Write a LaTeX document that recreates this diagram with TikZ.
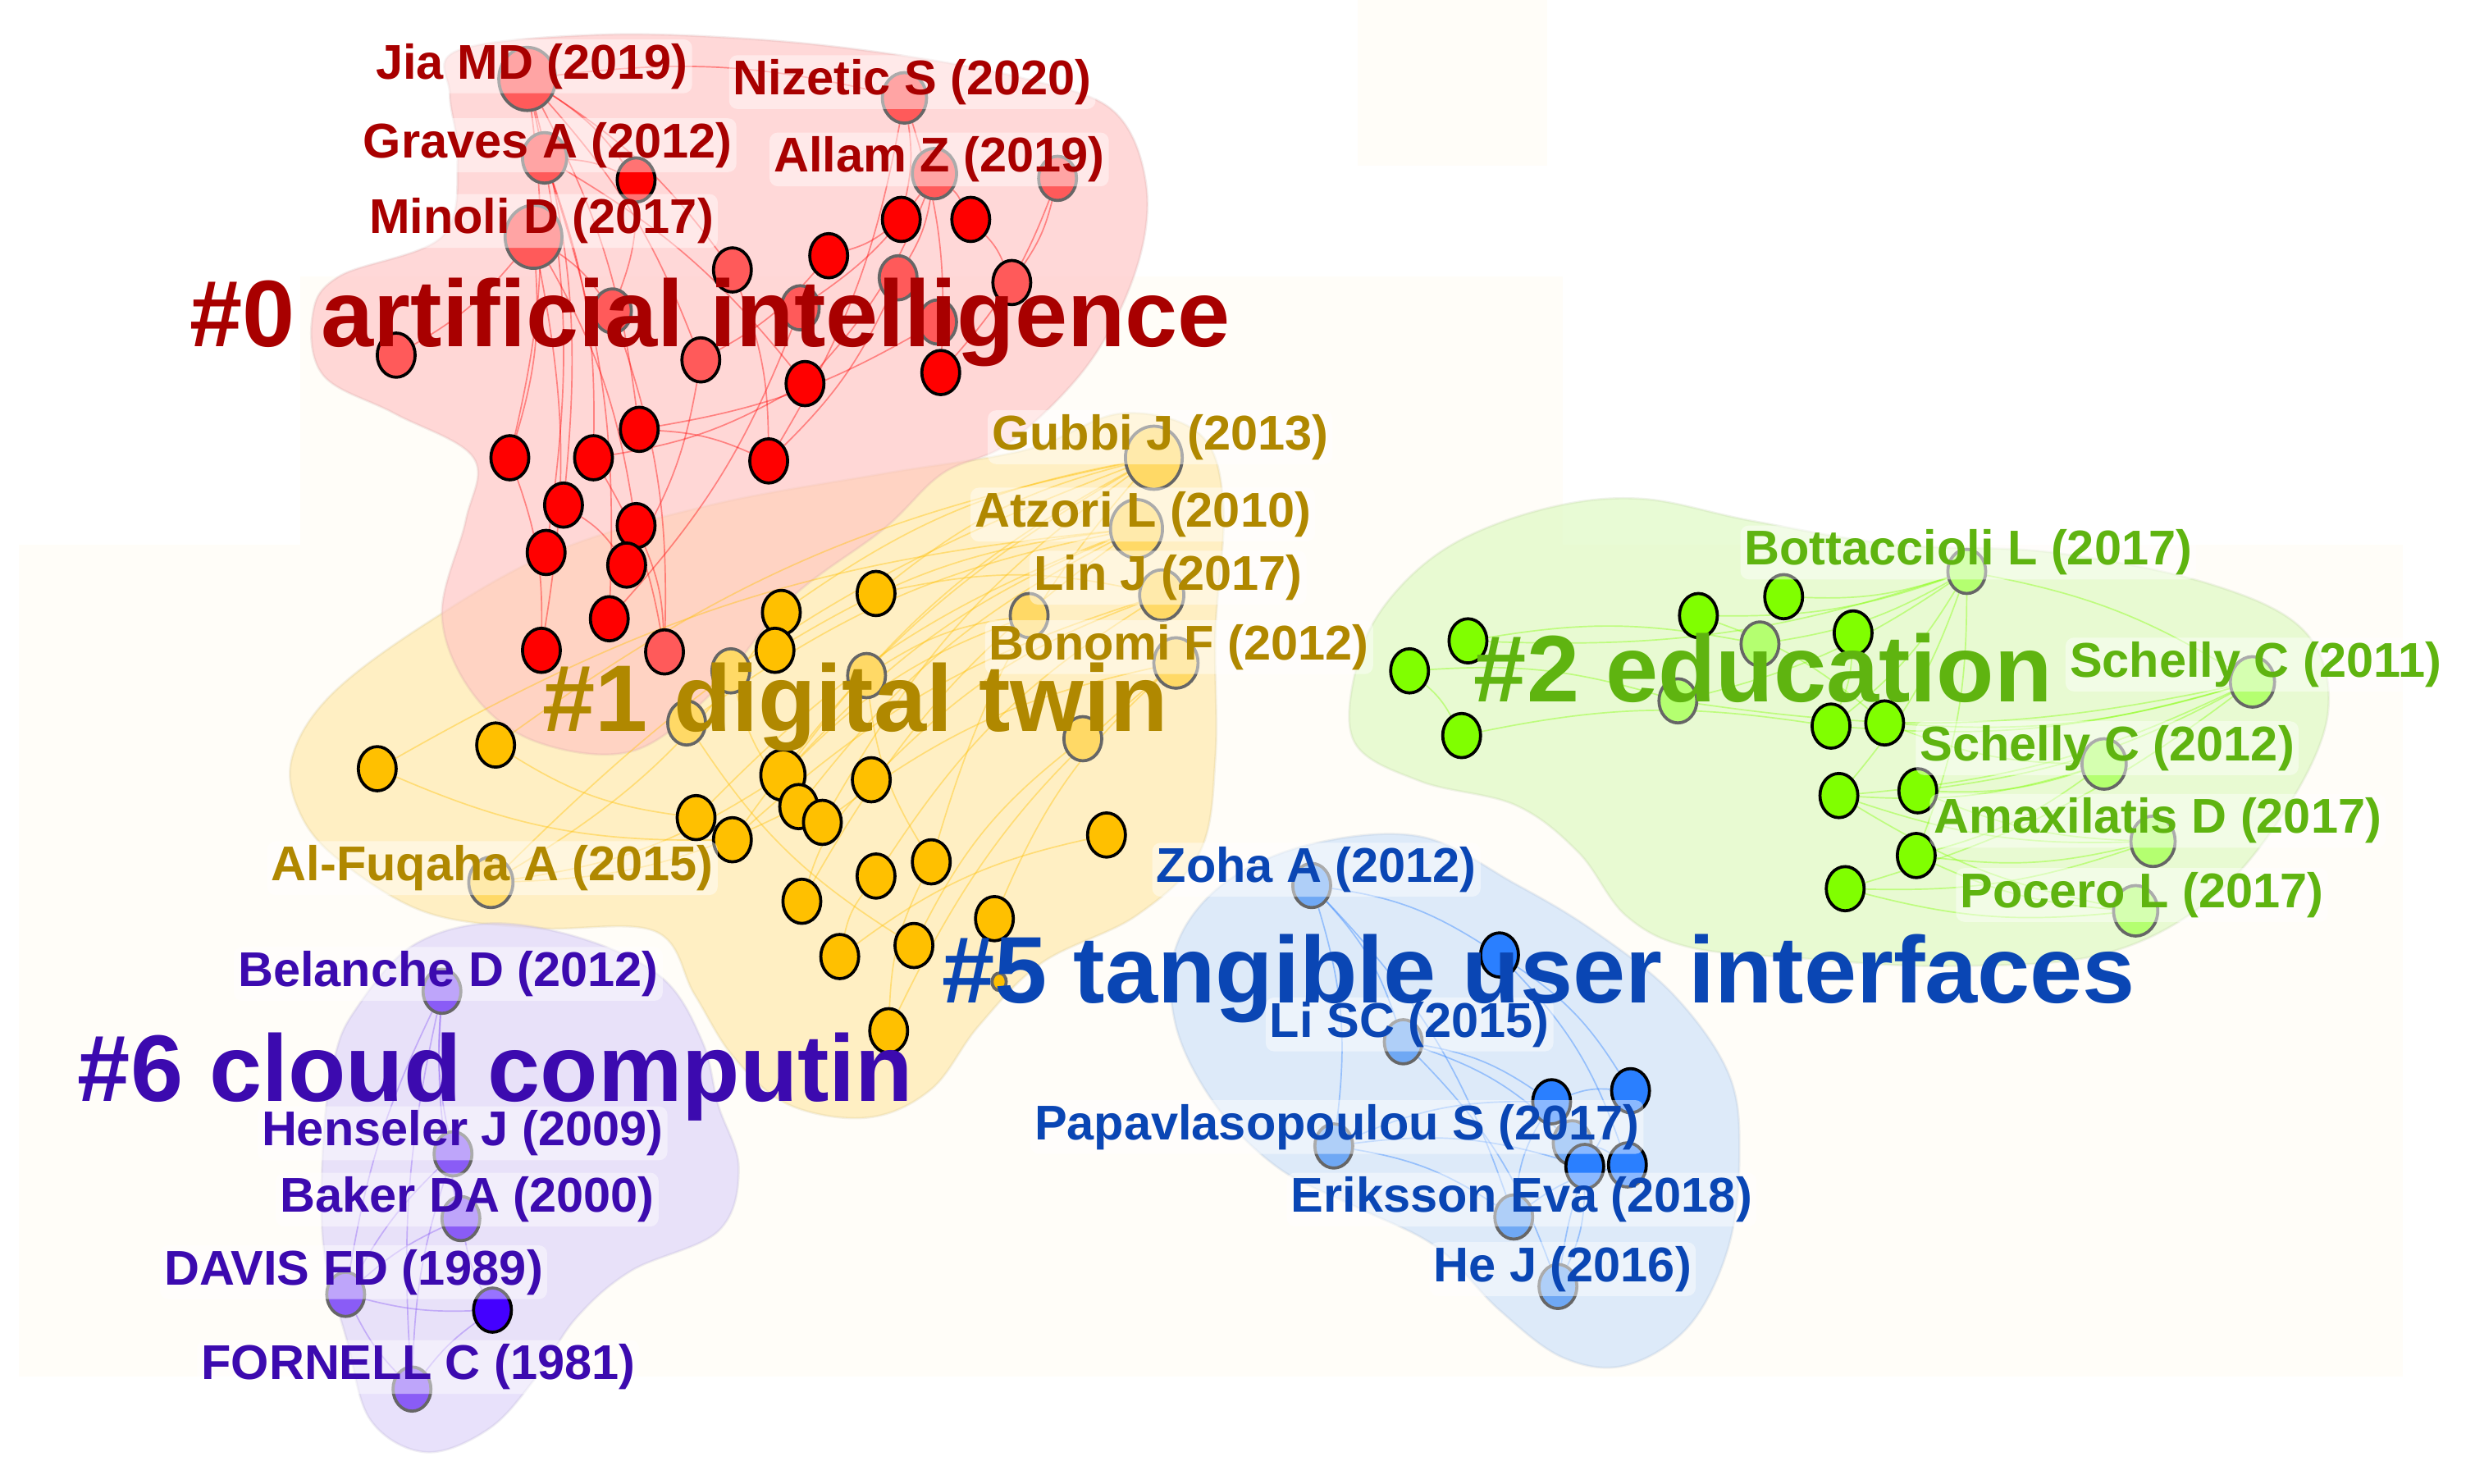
\documentclass[tikz,border=0pt]{standalone}
\usepackage{fontspec}
\setmainfont{Liberation Sans}
\usetikzlibrary{shapes.geometric}
\pgfdeclarelayer{bg}\pgfdeclarelayer{edg}\pgfsetlayers{bg,edg,main}
\definecolor{nR}{HTML}{FF0000}\definecolor{pR}{HTML}{FF5A5A}\definecolor{tR}{HTML}{A80000}\definecolor{hR}{HTML}{FFC4C4}
\definecolor{nO}{HTML}{FFC000}\definecolor{pO}{HTML}{FFD966}\definecolor{tO}{HTML}{B08800}\definecolor{hO}{HTML}{FFE9A8}
\definecolor{nG}{HTML}{80FF00}\definecolor{pG}{HTML}{B4FF70}\definecolor{tG}{HTML}{5FB410}\definecolor{hG}{HTML}{DDF9BF}
\definecolor{nB}{HTML}{2A7FFF}\definecolor{pB}{HTML}{6FA8F4}\definecolor{tB}{HTML}{0A46B4}\definecolor{hB}{HTML}{CCE0FA}
\definecolor{nP}{HTML}{8A5CF6}\definecolor{dP}{HTML}{4400FF}\definecolor{tP}{HTML}{3C0AAF}\definecolor{hP}{HTML}{DCD2FA}
\definecolor{cream}{HTML}{FFFDF8}
\tikzset{
 nd/.style={ellipse, draw=black, line width=1.1pt, inner sep=0pt, minimum width=0.48cm, minimum height=0.56cm},
 pl/.style={nd, draw=black!60},
 szA/.style={minimum width=0.72cm, minimum height=0.80cm},
 szB/.style={minimum width=0.66cm, minimum height=0.74cm},
 szC/.style={minimum width=0.56cm, minimum height=0.64cm},
 szS/.style={minimum width=0.18cm, minimum height=0.22cm},
 lab/.style={font=\bfseries\fontsize{17.6}{20}\selectfont, fill=white, fill opacity=0.45, text opacity=1, rounded corners=3pt, inner sep=1.5pt},
 clab/.style={font=\bfseries\fontsize{34.1}{40}\selectfont, inner sep=0pt},
 hull/.style={fill=#1, fill opacity=0.65, draw=#1!80!black, draw opacity=0.2, line width=0.8pt},
 ed/.style={draw=#1, opacity=0.4, line width=0.5pt}
}
\begin{document}
\begin{tikzpicture}[x=0.02cm, y=-0.02cm]
\useasboundingbox (0,0) rectangle (1568,940);
\begin{pgfonlayer}{bg}
\fill[white] (0,0) rectangle (1568,940);
\fill[cream] (12,345) rectangle (1522,872);
\fill[cream] (190,175) rectangle (990,345);
\fill[cream] (860,0) rectangle (980,105);
% hulls
\path[hull=hO] plot[smooth cycle, tension=0.6] coordinates {(185,480) (210,440) (270,395) (350,350) (450,320) (560,300) (650,285) (710,262) (760,275) (775,320) (770,400) (770,480) (760,540) (720,580) (660,610) (620,650) (590,690) (550,708) (500,700) (465,670) (440,630) (415,590) (340,588) (270,578) (215,545) (190,515)};
\path[hull=hR] plot[smooth cycle, tension=0.6] coordinates {(290,32) (380,22) (480,25) (570,35) (650,50) (705,70) (726,116) (720,170) (690,230) (640,280) (597,300) (560,335) (500,380) (450,440) (400,476) (340,470) (300,440) (280,390) (295,330) (300,290) (250,262) (205,238) (198,200) (215,175) (280,150) (290,100) (285,60)};
\path[hull=hG] plot[smooth cycle, tension=0.6] coordinates {(858,470) (860,420) (880,380) (920,345) (980,322) (1040,316) (1110,330) (1200,345) (1300,350) (1400,370) (1460,400) (1475,450) (1450,510) (1400,570) (1330,605) (1230,612) (1140,607) (1070,600) (1030,580) (1000,540) (960,510) (900,495)};
\path[hull=hB] plot[smooth cycle, tension=0.6] coordinates {(745,600) (775,560) (830,535) (900,530) (960,560) (1010,590) (1060,630) (1095,680) (1102,730) (1095,790) (1070,840) (1030,865) (990,860) (950,830) (910,790) (860,765) (810,740) (770,700) (745,650)};
\path[hull=hP] plot[smooth cycle, tension=0.6] coordinates {(225,640) (260,600) (310,585) (370,595) (420,620) (445,660) (455,700) (468,740) (455,780) (400,805) (365,835) (340,872) (310,905) (270,920) (235,900) (220,850) (205,790) (205,720) (212,670)};
\end{pgfonlayer}
% red nodes
\node[pl, szA, fill=pR] (jia) at (334,50) {};
\node[pl, szC, fill=pR] (niz) at (573,62) {};
\node[pl, szC, fill=pR] (gra) at (345,100) {};
\node[nd, fill=nR] (r1) at (403,114) {};
\node[pl, szC, fill=pR] (all) at (592,110) {};
\node[pl, fill=pR] (r2) at (670,113) {};
\node[pl, szA, fill=pR] (min) at (338,150) {};
\node[nd, fill=nR] (r3) at (571,139) {};
\node[nd, fill=nR] (r4) at (615,139) {};
\node[nd, fill=pR] (r5) at (464,171) {};
\node[nd, fill=nR] (r6) at (525,162) {};
\node[pl, fill=pR] (r7) at (569,176) {};
\node[nd, fill=pR] (r8) at (641,179) {};
\node[pl, fill=pR] (r9) at (388,197) {};
\node[pl, fill=pR] (r10) at (507,195) {};
\node[pl, fill=pR] (r11) at (594,204) {};
\node[nd, fill=pR] (r12) at (251,225) {};
\node[nd, fill=pR] (r13) at (444,228) {};
\node[nd, fill=nR] (r14) at (510,243) {};
\node[nd, fill=nR] (r15) at (596,236) {};
\node[nd, fill=nR] (r16) at (405,272) {};
\node[nd, fill=nR] (r17) at (323,290) {};
\node[nd, fill=nR] (r18) at (376,290) {};
\node[nd, fill=nR] (r19) at (487,292) {};
\node[nd, fill=nR] (r20) at (357,320) {};
\node[nd, fill=nR] (r21) at (403,333) {};
\node[nd, fill=nR] (r22) at (346,350) {};
\node[nd, fill=nR] (r23) at (397,358) {};
\node[nd, fill=nR] (r24) at (386,392) {};
\node[nd, fill=nR] (r25) at (343,412) {};
\node[nd, fill=pR] (r26) at (421,413) {};
% orange nodes
\node[pl, szA, fill=pO] (gub) at (731,290) {};
\node[pl, szB, fill=pO] (atz) at (720,335) {};
\node[pl, szC, fill=pO] (lin) at (736,377) {};
\node[pl, fill=pO] (o1) at (652,390) {};
\node[pl, szC, fill=pO] (bon) at (745,420) {};
\node[nd, fill=nO] (o2) at (555,376) {};
\node[nd, fill=nO] (o3) at (495,388) {};
\node[nd, fill=nO] (o4) at (491,412) {};
\node[pl, fill=pO] (o5) at (463,425) {};
\node[pl, fill=pO] (o6) at (549,428) {};
\node[pl, fill=pO] (o7) at (435,458) {};
\node[pl, fill=pO] (o8) at (686,468) {};
\node[nd, fill=nO] (o9) at (314,472) {};
\node[nd, fill=nO] (o10) at (239,487) {};
\node[nd, szC, fill=nO] (o11) at (496,491) {};
\node[nd, fill=nO] (o12) at (552,494) {};
\node[nd, fill=nO] (o13) at (506,511) {};
\node[nd, fill=nO] (o14) at (521,521) {};
\node[nd, fill=nO] (o15) at (441,518) {};
\node[nd, fill=nO] (o16) at (464,532) {};
\node[nd, fill=nO] (o17) at (701,529) {};
\node[nd, fill=nO] (o18) at (590,546) {};
\node[nd, fill=nO] (o19) at (555,555) {};
\node[pl, szC, fill=pO] (alf) at (311,559) {};
\node[nd, fill=nO] (o20) at (630,582) {};
\node[nd, fill=nO] (o21) at (508,571) {};
\node[nd, fill=nO] (o22) at (579,599) {};
\node[nd, fill=nO] (o23) at (532,606) {};
\node[pl, szS, fill=nO] (o24) at (633,622) {};
\node[nd, fill=nO] (o25) at (563,653) {};
% green nodes
\node[pl, fill=pG] (bot) at (1246,362) {};
\node[nd, fill=nG] (g1) at (1130,378) {};
\node[nd, fill=nG] (g2) at (1076,390) {};
\node[nd, fill=nG] (g3) at (930,406) {};
\node[nd, fill=nG] (g4) at (893,425) {};
\node[pl, fill=pG] (g5) at (1115,408) {};
\node[nd, fill=nG] (g6) at (1174,401) {};
\node[pl, fill=pG] (g7) at (1063,444) {};
\node[nd, fill=nG] (g8) at (926,466) {};
\node[nd, fill=nG] (g9) at (1160,460) {};
\node[nd, fill=nG] (g10) at (1194,458) {};
\node[pl, szC, fill=pG] (sca) at (1427,432) {};
\node[pl, szC, fill=pG] (scb) at (1333,484) {};
\node[nd, fill=nG] (g11) at (1165,504) {};
\node[nd, fill=nG] (g12) at (1215,501) {};
\node[pl, szC, fill=pG] (ama) at (1364,533) {};
\node[nd, fill=nG] (g13) at (1214,542) {};
\node[nd, fill=nG] (g14) at (1169,563) {};
\node[pl, szC, fill=pG] (poc) at (1353,577) {};
% blue nodes
\node[pl, fill=pB] (zoh) at (831,561) {};
\node[nd, fill=nB] (b1) at (950,605) {};
\node[pl, fill=pB] (lis) at (889,660) {};
\node[nd, fill=nB] (b2) at (983,698) {};
\node[nd, fill=nB] (b3) at (1033,691) {};
\node[pl, fill=pB] (pap) at (845,726) {};
\node[pl, fill=pB] (b4) at (996,724) {};
\node[nd, fill=nB] (b5) at (1004,739) {};
\node[nd, fill=nB] (b6) at (1031,738) {};
\node[pl, fill=pB] (eri) at (959,771) {};
\node[pl, fill=pB] (hej) at (987,815) {};
% purple nodes
\node[pl, fill=nP] (bel) at (280,628) {};
\node[pl, fill=nP] (hen) at (287,731) {};
\node[pl, fill=nP] (bak) at (292,772) {};
\node[pl, fill=nP] (dav) at (219,820) {};
\node[nd, fill=dP] (p1) at (312,830) {};
\node[pl, fill=nP] (for) at (261,880) {};
% edges
\begin{pgfonlayer}{edg}
\foreach \a/\b in {jia/r17,jia/r20,jia/r22,jia/r13,jia/r5,jia/niz,jia/r16,gra/r18,gra/r24,gra/r14,min/r17,min/r25,min/r12,min/r21,niz/r3,niz/r15,niz/r19,all/r4,all/r7,all/r14,all/r10,r2/r8,r2/r15,r3/r6,r4/r8,r5/r19,r6/r13,r7/r19,r11/r16,r9/r26,r13/r23,r16/r19,r18/r26,r20/r23,r21/r26,r17/r25,r14/r18,r10/r24,gra/r1,r1/r9,min/r9,jia/r1}
  \draw[ed=nR] (\a) to[bend left=10] (\b);
\foreach \a/\b in {gub/o11,gub/o3,gub/o9,gub/o14,gub/o16,gub/o18,gub/alf,atz/o11,atz/o13,atz/o4,atz/o15,atz/o10,atz/o21,lin/o12,lin/o19,lin/o2,bon/o14,bon/o20,bon/o25,o1/o11,o1/o6,alf/o11,alf/o13,alf/o3,o9/o15,o10/o16,o8/o22,o17/o23,o18/o25,o12/o21,o19/o23,o5/o13,o7/o22,o6/o18,o24/o20,gub/o2,atz/o7,lin/o16}
  \draw[ed=nO] (\a) to[bend right=12] (\b);
\foreach \a/\b in {bot/g2,bot/g1,bot/g5,bot/g9,bot/g11,bot/g13,bot/g7,bot/g3,sca/g9,sca/g10,sca/g11,sca/g12,sca/g14,sca/g7,scb/g11,scb/g12,scb/g13,scb/g10,ama/g11,ama/g12,ama/g14,ama/g13,poc/g14,poc/g13,poc/g11,g4/g7,g8/g9,g3/g5,g4/g8,g6/g9,g2/g10,bot/sca}
  \draw[ed=nG] (\a) to[bend left=10] (\b);
\foreach \a/\b in {zoh/b1,zoh/lis,zoh/pap,zoh/eri,b1/b3,b1/b6,lis/b2,lis/b4,lis/hej,pap/b2,pap/b5,b2/b3,b4/b6,b5/hej,eri/b2,eri/b6,hej/b3,pap/eri}
  \draw[ed=nB] (\a) to[bend left=12] (\b);
\foreach \a/\b in {bel/hen,bel/bak,bel/for,bel/dav,hen/bak,hen/for,bak/dav,bak/p1,dav/p1,dav/for,p1/for,hen/dav}
  \draw[ed=nP] (\a) to[bend right=8] (\b);
\end{pgfonlayer}
% author labels
\node[lab, text=tR] (ljia) at (337,42) {Jia MD (2019)};
\node[lab, text=tR] (lniz) at (578,52) {Nizetic S (2020)};
\node[lab, text=tR] (lgra) at (347,92) {Graves A (2012)};
\node[lab, text=tR] (lall) at (595,101) {Allam Z (2019)};
\node[lab, text=tR] (lmin) at (343,140) {Minoli D (2017)};
\node[lab, text=tO] (lgub) at (735,277) {Gubbi J (2013)};
\node[lab, text=tO] (latz) at (724,326) {Atzori L (2010)};
\node[lab, text=tO] (llin) at (740,366) {Lin J (2017)};
\node[lab, text=tO] (lbon) at (747,410) {Bonomi F (2012)};
\node[lab, text=tO] (lalf) at (312,550) {Al-Fuqaha A (2015)};
\node[lab, text=tG] (lbot) at (1247,350) {Bottaccioli L (2017)};
\node[lab, text=tG] (lsca) at (1429,421) {Schelly C (2011)};
\node[lab, text=tG] (lscb) at (1335,474) {Schelly C (2012)};
\node[lab, text=tG] (lama) at (1367,520) {Amaxilatis D (2017)};
\node[lab, text=tG] (lpoc) at (1357,567) {Pocero L (2017)};
\node[lab, text=tB] (lzoh) at (834,551) {Zoha A (2012)};
\node[lab, text=tB] (llis) at (893,649) {Li SC (2015)};
\node[lab, text=tB] (lpap) at (847,714) {Papavlasopoulou S (2017)};
\node[lab, text=tB] (leri) at (964,760) {Eriksson Eva (2018)};
\node[lab, text=tB] (lhej) at (990,804) {He J (2016)};
\node[lab, text=tP] (lbel) at (284,617) {Belanche D (2012)};
\node[lab, text=tP] (lhen) at (293,718) {Henseler J (2009)};
\node[lab, text=tP] (lbak) at (296,760) {Baker DA (2000)};
\node[lab, text=tP] (ldav) at (224,806) {DAVIS FD (1989)};
\node[lab, text=tP] (lfor) at (265,866) {FORNELL C (1981)};
% cluster labels
\node[clab, text=tR] (c0) at (450,204) {\#0 artificial intelligence};
\node[clab, text=tO] (c1) at (542,448) {\#1 digital twin};
\node[clab, text=tG] (c2) at (1117,423) {\#2 education};
\node[clab, text=tB] (c5) at (975,620) {\#5 tangible user interfaces};
\node[clab, text=tP] (c6) at (314,682) {\#6 cloud computin};
\end{tikzpicture}
\end{document}
